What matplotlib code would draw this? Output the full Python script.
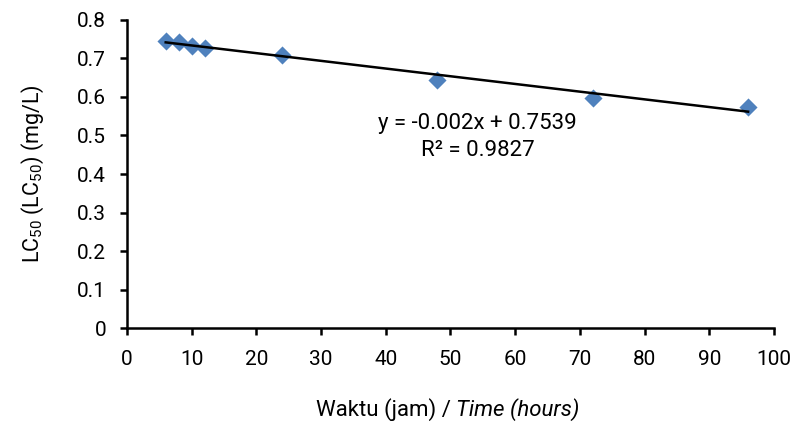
import numpy as np
import matplotlib
matplotlib.use("Agg")
import matplotlib.pyplot as plt

# LC50 values
hours = [6, 8, 10, 12, 24, 48, 72, 96]
lc50 = [0.745, 0.744, 0.733, 0.728, 0.709, 0.644, 0.597, 0.575]

# trendline as printed on the chart
slope = -0.002
intercept = 0.7539
r2 = 0.9827

x_ticks = list(range(0, 101, 10))
y_ticks = [0, 0.1, 0.2, 0.3, 0.4, 0.5, 0.6, 0.7, 0.8]
y_tick_labels = ["0", "0.1", "0.2", "0.3", "0.4", "0.5", "0.6", "0.7", "0.8"]

plt.rcParams["font.family"] = ["Roboto", "DejaVu Sans"]
plt.rcParams["mathtext.fontset"] = "custom"
plt.rcParams["mathtext.rm"] = "Roboto"

fig = plt.figure(figsize=(7.93, 4.29), dpi=100)
ax = fig.add_axes([0.160, 0.2354, 0.816, 0.718])

ax.scatter(hours, lc50, marker="D", s=85, color="#4F81BD", zorder=3, linewidths=0)

fit_x = np.array([hours[0], hours[-1]])
ax.plot(fit_x, slope * fit_x + intercept, color="black", linewidth=1.8, zorder=4)

ax.text(54.2, 0.532, f"y = {slope}x + {intercept}", fontsize=16,
        ha="center", va="center")
ax.text(54.2, 0.462, f"R² = {r2}", fontsize=16,
        ha="center", va="center")

ax.set_xlim(0, 100)
ax.set_ylim(0, 0.8)
ax.set_xticks(x_ticks)
ax.set_xticklabels([str(t) for t in x_ticks], fontsize=15)
ax.set_yticks(y_ticks)
ax.set_yticklabels(y_tick_labels, fontsize=15)

for side in ["top", "right"]:
    ax.spines[side].set_visible(False)
for side in ["left", "bottom"]:
    ax.spines[side].set_linewidth(1.8)
ax.tick_params(direction="out", length=5, width=1.8)
ax.tick_params(axis="y", pad=10)
ax.tick_params(axis="x", pad=11)

ax.set_ylabel("LC$_{50}$ (LC$_{50}$) (mg/L)", fontsize=15.5, labelpad=22)

# x label: plain part then italic English part
t1 = fig.text(0.398, 0.046, "Waktu (jam) / ", fontsize=16, ha="left", va="center")
ax.annotate("Time (hours)", xy=(1, 0), xycoords=t1, fontsize=16,
            style="italic", ha="left", va="bottom")

fig.savefig("out.png", dpi=100)
